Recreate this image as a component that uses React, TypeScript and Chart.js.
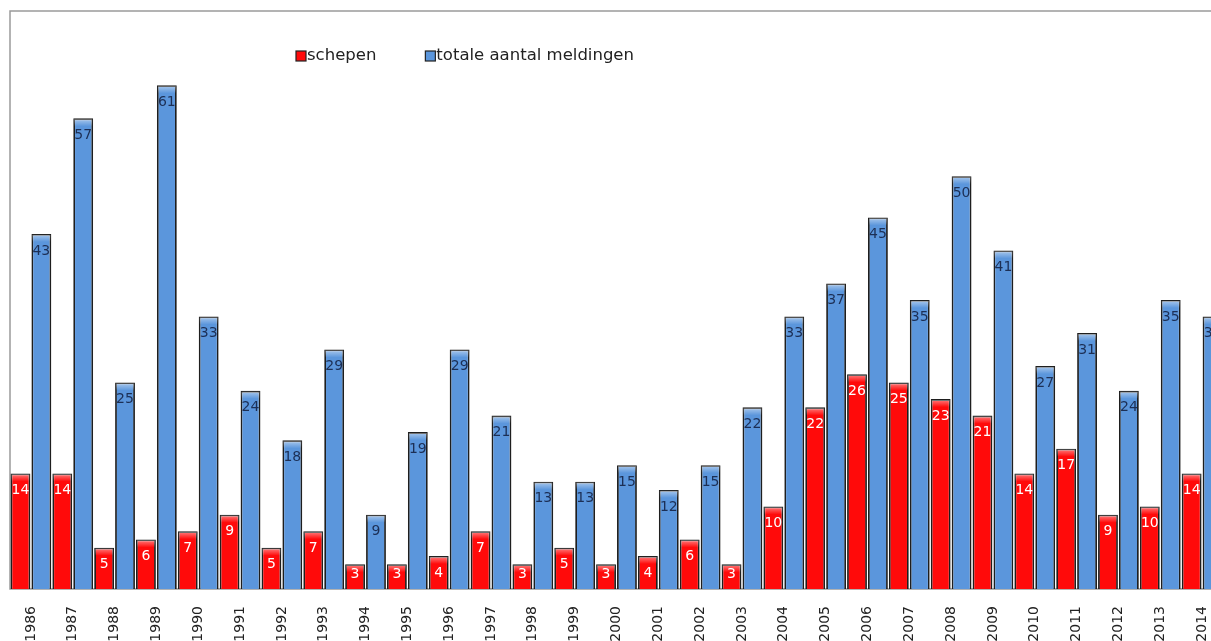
import React, { useEffect, useRef } from "react";
import { Chart, registerables } from "chart.js";

Chart.register(...registerables);

const years = [
  "1986", "1987", "1988", "1989", "1990", "1991", "1992", "1993", "1994", "1995",
  "1996", "1997", "1998", "1999", "2000", "2001", "2002", "2003", "2004", "2005",
  "2006", "2007", "2008", "2009", "2010", "2011", "2012", "2013", "2014",
];
const schepen = [14, 14, 5, 6, 7, 9, 5, 7, 3, 3, 4, 7, 3, 5, 3, 4, 6, 3, 10, 22, 26, 25, 23, 21, 14, 17, 9, 10, 14];
const totaal = [43, 57, 25, 61, 33, 24, 18, 29, 9, 19, 29, 21, 13, 13, 15, 12, 15, 22, 33, 37, 45, 35, 50, 41, 27, 31, 24, 35, 33];
const seriesLabels = ["schepen", "totale aantal meldingen"];
const seriesColors = ["#ff0a0a", "#5b96dc"];
const labelColors = ["#ffffff", "#1c2f55"];

const FONT = "'DejaVu Sans', Verdana, sans-serif";

const framePlugin = {
  id: "frame",
  beforeDatasetsDraw(chart: any) {
    const { ctx, chartArea } = chart;
    ctx.save();
    ctx.strokeStyle = "#9a9a9a";
    ctx.lineWidth = 1.5;
    ctx.beginPath();
    ctx.moveTo(chartArea.right + 5, chartArea.top);
    ctx.lineTo(chartArea.left, chartArea.top);
    ctx.lineTo(chartArea.left, chartArea.bottom);
    ctx.lineTo(chartArea.right + 5, chartArea.bottom);
    ctx.stroke();
    ctx.restore();
  },
};

const valueLabelPlugin = {
  id: "valueLabels",
  afterDatasetsDraw(chart: any) {
    const { ctx, chartArea } = chart;
    ctx.save();
    // subtle highlight at top of each bar
    chart.data.datasets.forEach((_ds: any, di: number) => {
      const meta = chart.getDatasetMeta(di);
      meta.data.forEach((bar: any) => {
        const left = bar.x - bar.width / 2 + 1;
        const w = bar.width - 2;
        const top = bar.y + 1;
        const g = ctx.createLinearGradient(0, top, 0, top + 7);
        g.addColorStop(0, "rgba(255,255,255,0.45)");
        g.addColorStop(1, "rgba(255,255,255,0)");
        ctx.fillStyle = g;
        ctx.fillRect(left, top, w, 7);
      });
    });
    ctx.font = `14px ${FONT}`;
    ctx.textAlign = "center";
    ctx.textBaseline = "middle";
    chart.data.datasets.forEach((ds: any, di: number) => {
      const meta = chart.getDatasetMeta(di);
      ctx.fillStyle = labelColors[di];
      meta.data.forEach((bar: any, i: number) => {
        const y = Math.min(bar.y + 17, chartArea.bottom - 15);
        ctx.fillText(String(ds.data[i]), bar.x, y);
      });
    });
    ctx.restore();
  },
};

const legendPlugin = {
  id: "customLegend",
  afterDraw(chart: any) {
    const { ctx } = chart;
    ctx.save();
    ctx.font = `16.5px ${FONT}`;
    ctx.textBaseline = "middle";
    let x = 288;
    const y = 48;
    seriesLabels.forEach((label, i) => {
      ctx.fillStyle = seriesColors[i];
      ctx.fillRect(x, y - 5, 10, 10);
      ctx.strokeStyle = "#222";
      ctx.lineWidth = 1.2;
      ctx.strokeRect(x, y - 5, 10, 10);
      ctx.fillStyle = "#222";
      ctx.fillText(label, x + 11, y);
      x += 11 + ctx.measureText(label).width + 49;
    });
    ctx.restore();
  },
};

export default function App() {
  const ref = useRef<HTMLCanvasElement | null>(null);
  useEffect(() => {
    document.documentElement.style.overflow = "hidden";
    document.body.style.margin = "8px 0 0 8px";
    const canvas = ref.current!;
    const chart = new Chart(canvas, {
      type: "bar",
      data: {
        labels: years,
        datasets: [
          {
            label: seriesLabels[0],
            data: schepen,
            backgroundColor: seriesColors[0],
            borderColor: "#1e1e1e",
            borderWidth: 1.8,
            categoryPercentage: 1,
            barPercentage: 0.95,
          },
          {
            label: seriesLabels[1],
            data: totaal,
            backgroundColor: seriesColors[1],
            borderColor: "#1e1e1e",
            borderWidth: 1.8,
            categoryPercentage: 1,
            barPercentage: 0.95,
          },
        ],
      },
      options: {
        responsive: false,
        animation: false,
        devicePixelRatio: 1,
        layout: { padding: { left: 2, top: 3, right: 0, bottom: 0 } },
        plugins: {
          legend: { display: false },
          tooltip: { enabled: false },
        },
        scales: {
          x: {
            grid: { display: false },
            border: { display: false },
            ticks: {
              minRotation: 90,
              maxRotation: 90,
              autoSkip: false,
              padding: 9,
              color: "#222",
              font: { family: FONT, size: 14 },
            },
            afterFit(scale: any) {
              scale.height = 60;
              scale.paddingLeft = 0;
              scale.paddingRight = 0;
            },
          },
          y: {
            display: false,
            min: 0,
            max: 70,
          },
        },
      },
      plugins: [framePlugin, valueLabelPlugin, legendPlugin],
    });
    return () => chart.destroy();
  }, []);
  return (
    <div style={{ width: 1203, height: 633, overflow: "hidden" }}>
      <canvas ref={ref} width={1215} height={641} style={{ display: "block" }} />
    </div>
  );
}
